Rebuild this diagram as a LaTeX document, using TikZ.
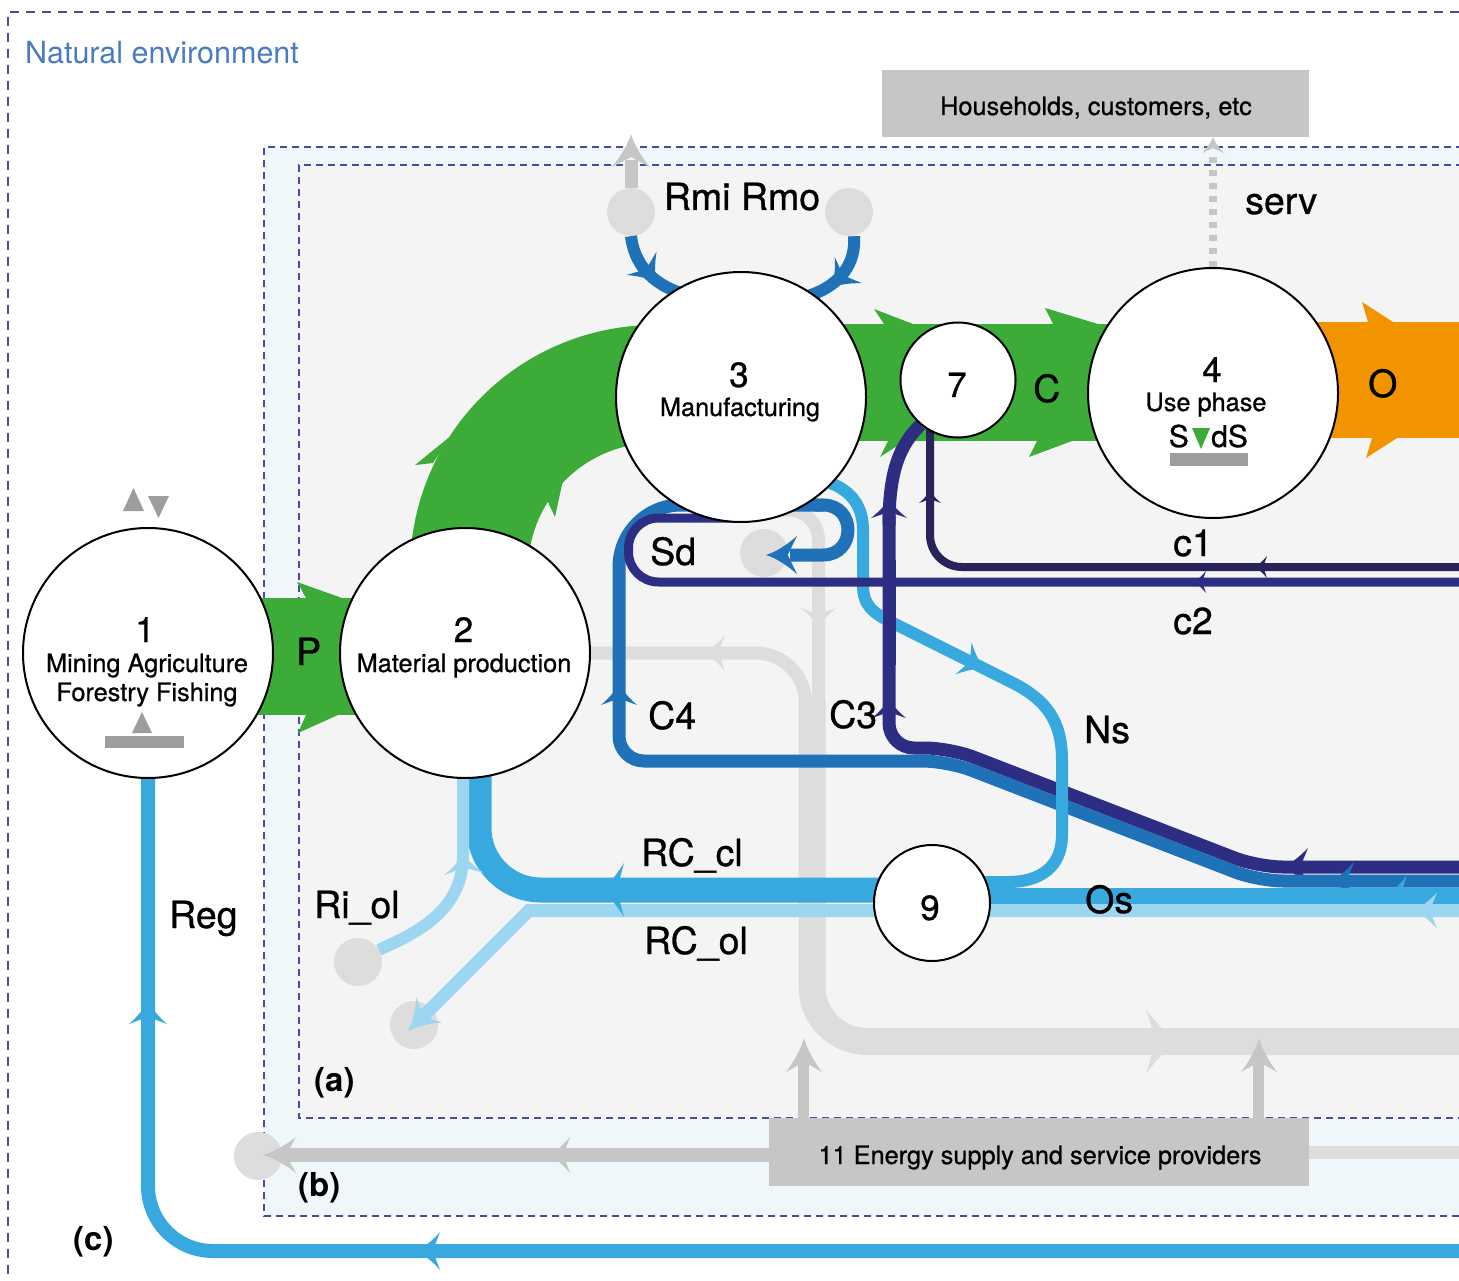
\documentclass[tikz,border=0pt]{standalone}
\usepackage{fontspec}
\setmainfont{TeX Gyre Heros}[FakeBold=0.8]
\newfontfamily\plainheros{TeX Gyre Heros}
\usetikzlibrary{calc}
\definecolor{grn}{HTML}{3DAB37}
\definecolor{org}{HTML}{F29400}
\definecolor{navy}{HTML}{2E2D84}
\definecolor{ink}{HTML}{29235C}
\definecolor{blu}{HTML}{1F71B8}
\definecolor{lblu}{HTML}{38A9DF}
\definecolor{vlblu}{HTML}{9DD6F0}
\definecolor{gline}{HTML}{DDDDDD}
\definecolor{gmid}{HTML}{C6C6C6}
\definecolor{gdark}{HTML}{9D9D9D}
\definecolor{bga}{HTML}{F4F4F4}
\definecolor{bgb}{HTML}{EFF7FB}
\definecolor{frame}{HTML}{4A4AA0}
\definecolor{envtext}{HTML}{4A7BBF}
\pgfdeclarelayer{back}
\pgfdeclarelayer{flow}
\pgfsetlayers{back,flow,main}
% flow arrowhead: tip point, direction angle, length, half width, colour
\newcommand{\fhead}[5]{\fill[#5,shift={#1},rotate=#2] (0,0) .. controls ({-0.3*#3},{0.15*#4}) and ({-0.65*#3},{0.5*#4}) .. ({-#3},{#4}) -- ({-0.7*#3},0) -- ({-#3},{-#4}) .. controls ({-0.65*#3},{-0.5*#4}) and ({-0.3*#3},{-0.15*#4}) .. (0,0) -- cycle;}
\begin{document}
\begin{tikzpicture}[x=1pt,y=-1pt,
  frameline/.style={draw=frame, line width=1.1pt, dash pattern=on 7pt off 5pt},
  outerline/.style={draw=frame, line width=1.1pt, dash pattern=on 9pt off 7pt},
  disc/.style={circle, draw=black, line width=2pt, fill=white, inner sep=0pt},
  spot/.style={circle, fill=gline, inner sep=0pt, minimum size=48pt},
  lab/.style={inner sep=0pt, anchor=base west, font=\fontsize{37.5}{40}\selectfont},
  num/.style={inner sep=0pt, anchor=base, font=\fontsize{35}{40}\selectfont},
  sub/.style={inner sep=0pt, anchor=base, font=\fontsize{25.3}{28}\selectfont},
  tag/.style={inner sep=0pt, anchor=base west, font=\fontsize{33}{36}\plainheros\bfseries},
  greybox/.style={fill=gmid, inner sep=0pt}]
\useasboundingbox (0,0) rectangle (1459,1281);

% ---------- frames and end points ----------
\begin{pgfonlayer}{back}
  \draw[outerline] (1475,12) -- (8,12) -- (8,1295);
  \fill[bgb] (264,147) rectangle (1475,1216);
  \draw[frameline] (1475,147) -- (264,147) -- (264,1216) -- (1475,1216);
  \fill[bga] (299,165) rectangle (1475,1118);
  \draw[frameline] (1475,165) -- (299,165) -- (299,1118) -- (1475,1118);
  \node[spot] (s-rmi) at (631,212) {};
  \node[spot] (s-rmo) at (849,212) {};
  \node[spot] (s-sd) at (764,553) {};
  \node[spot] (s-riol) at (358,962) {};
  \node[spot] (s-rcol) at (414,1025) {};
  \node[spot] (s-b) at (258,1156) {};
\end{pgfonlayer}

% ---------- processes ----------
\node[disc, minimum size=250pt] (n1) at (148,653) {};
\node[disc, minimum size=250pt] (n2) at (465,653) {};
\node[disc, minimum size=250pt] (n3) at (741,397) {};
\node[disc, minimum size=250pt] (n4) at (1213,393) {};
\node[disc, minimum size=115pt] (n7) at (958,380) {};
\node[disc, minimum size=116pt] (n9) at (932,903) {};
\node[greybox, minimum width=427pt, minimum height=67pt] (hh) at (1095.5,103.5) {};
\node[greybox, minimum width=540pt, minimum height=68pt] (es) at (1039,1152) {};

\begin{pgfonlayer}{flow}
  % grey energy and service flows
  \draw[gline, line width=27pt, rounded corners=55pt] (812,700) -- (812,1041.5) -- (1475,1041.5);
  \draw[gline, line width=13pt, rounded corners=50pt] (805.5,712) -- (805.5,653) -- (n2.east);
  \draw[gline, line width=13pt, rounded corners=30pt] (760,510) -- (818.5,510) -- (818.5,712);
  \fhead{(703,653)}{180}{22}{18}{gline}
  \fhead{(818.5,628)}{-90}{20}{18}{gline}
  \fhead{(1180,1041.5)}{0}{34}{32}{gline}
  \draw[gline, line width=13pt] (es.east) -- (1475,1152);
  \draw[gmid, line width=14pt] ([yshift=-3pt]es.west) -- (285,1155);
  \fhead{(548,1155)}{180}{22}{18}{gmid}
  \fhead{(263,1155)}{180}{33}{18}{gmid}
  \draw[gmid, line width=11pt] ([xshift=35pt]es.north west) -- ++(0,-60);
  \fhead{(804,1038)}{90}{34}{18}{gmid}
  \draw[gmid, line width=11pt] ([xshift=490pt]es.north west) -- ++(0,-60);
  \fhead{(1259,1038)}{90}{34}{18}{gmid}
  \draw[gmid, line width=13pt] (s-rmi.north) -- (631,160);
  \fhead{(631,134)}{90}{33}{19}{gmid}
  \draw[gmid, line width=8pt, dash pattern=on 6pt off 7pt] (n4.north) -- (1213,150);
  \fhead{(1213,137)}{90}{16}{11}{gmid}

  % regeneration
  \draw[lblu, line width=14pt, rounded corners=65pt] (n1.south) -- (148,1251) -- (1475,1251);
  \fhead{(148,1000)}{90}{24}{19}{lblu}
  \fhead{(416,1251)}{180}{24}{19}{lblu}

  % main material flows
  \fill[grn] (655,570) ++(180:245) arc[start angle=180, end angle=275, radius=245]
     -- ($(655,570)+(275:127)$) arc[start angle=275, end angle=180, radius=127] -- cycle;
  \fill[grn] (433,463) -- (415,465) -- (452,435) -- cycle;
  \fill[grn] (547,500) -- (555,517) -- (563,480) -- cycle;
  \fill[grn] (840,324) rectangle (1110,441);
  \fill[grn] (884,324) -- (874,309) -- (913,324) -- cycle;
  \fill[grn] (888,441) -- (880,457) -- (905,441) -- cycle;
  \fill[grn] (1053,324) -- (1045,308) -- (1098,324) -- cycle;
  \fill[grn] (1037,441) -- (1029,457) -- (1072,441) -- cycle;
  \fill[org] (1300,322) rectangle (1475,438);
  \fill[org] (1368,322) -- (1362,302) -- (1393,322) -- cycle;
  \fill[org] (1372,438) -- (1366,458) -- (1397,438) -- cycle;
  \fill[grn] (255,598) rectangle (360,715);
  \fill[grn] (306,598) -- (297,582) -- (342,598) -- cycle;
  \fill[grn] (306,715) -- (298,733) -- (338,715) -- cycle;

  % Rmi / Rmo
  \draw[blu, line width=12pt] (s-rmi.south) .. controls (634,262) and (650,284) .. (684,294);
  \fhead{(657,283)}{-52}{25}{19}{blu}
  \draw[blu, line width=12pt] ([xshift=5pt]s-rmo.south) .. controls (856,262) and (842,285) .. (808,296);
  \fhead{(831,288)}{-134}{25}{19}{blu}

  % C3 (navy)
  \draw[navy, line width=13pt, rounded corners=25pt] (1475,867) -- (1258,867) -- (950,748) -- (889,748) -- (889,515);
  \draw[navy, line width=13pt] (889,525) .. controls (889,470) and (900,445) .. (n7.-130);
  \fhead{(889,498)}{90}{20}{18}{navy}
  \fhead{(889,698)}{90}{20}{17}{navy}
  \fhead{(1282,867)}{180}{26}{19}{navy}

  % C4 (blue)
  \draw[blu, line width=13pt, rounded corners=25pt] (1475,881) -- (1258.6,881) -- (947.6,761) -- (619,761)
     [rounded corners=62pt] -- (619,505) [rounded corners=44pt] -- (823,505);
  \draw[blu, line width=13pt] (815,505) -- (823,505) .. controls (856.3,505) and (856.3,555) .. (823,555) -- (790,555);
  \fhead{(619,683)}{90}{22}{18}{blu}
  \fhead{(766,555)}{180}{31}{19}{blu}
  \fhead{(1330,881)}{180}{24}{19}{blu}

  % Os
  \draw[lblu, line width=16pt] (980,896) -- (1475,896);
  \fhead{(1385,896)}{180}{22}{21}{lblu}

  % Ns
  \draw[lblu, line width=12pt] (820,480) .. controls (850,487) and (863,505) .. (863,530) -- (863,585)
     .. controls (863,605) and (872,613) .. (895,624) -- (1015,684)
     .. controls (1045,700) and (1062,720) .. (1062,760) -- (1062,835)
     .. controls (1062,867) and (1040,882) .. (1008,882) -- (975,882);
  \fhead{(985,669)}{-26.6}{24}{18}{lblu}
  \draw[navy, line width=13pt] (889,560) -- (889,665);

  % c2 and c1
  \draw[navy, line width=9pt, rounded corners=30pt] (745,518) -- (628.5,518) -- (628.5,582) -- (1475,582);
  \fhead{(1193,582)}{180}{13}{11}{navy}
  \draw[ink, line width=8pt, rounded corners=32pt] (930,425) -- (930,567) -- (1475,567);
  \fhead{(930,490)}{90}{13}{11}{ink}
  \fhead{(1254,567)}{180}{13}{11}{ink}

  % RC_ol, RC_cl, Ri_ol
  \draw[vlblu, line width=13pt] (1475,910.5) -- (529,910.5) -- (421,1018.5);
  \fhead{(408,1031)}{-135}{30}{18}{vlblu}
  \fhead{(1413,910.5)}{180}{24}{18}{vlblu}
  \draw[lblu, line width=25pt, rounded corners=62pt] (880,890) -- (479,890) -- (479,770);
  \fhead{(600,890)}{180}{24}{27}{lblu}
  \draw[vlblu, line width=12pt] (s-riol.30) -- (400,940) .. controls (440,920) and (462,895) .. (463,858) -- (463,772);
  \fhead{(463,853)}{93}{21}{20}{vlblu}
\end{pgfonlayer}

% ---------- marks on processes ----------
\fill[gdark] (123,511) -- (144,511) -- (133.5,488) -- cycle;
\fill[gdark] (148,496) -- (169,496) -- (158.5,518) -- cycle;
\fill[gdark] (132,733) -- (152,733) -- (142,712) -- cycle;
\fill[gdark] (105,736) rectangle (184,748);
\fill[gdark] (1170,453) rectangle (1248,466);
\fill[grn] (1192,428) -- (1210,428) -- (1201,449) -- cycle;

% ---------- texts ----------
\node[anchor=base west, inner sep=0pt, text=envtext, font=\fontsize{30.5}{34}\plainheros] (t-env) at (25,64) {Natural environment};
\node[sub] (t-hh) at (1096,115) {Households, customers, etc};
\node[sub] (t-es) at (1040,1164) {11 Energy supply and service providers};

\node[num] (t-1) at (145,642) {1};
\node[sub] (t-1a) at (147,672) {Mining Agriculture};
\node[sub] (t-1b) at (147,701) {Forestry Fishing};
\node[num] (t-2) at (463.5,642) {2};
\node[sub] (t-2a) at (464,672) {Material production};
\node[num] (t-3) at (739,387) {3};
\node[sub] (t-3a) at (740,416) {Manufacturing};
\node[num] (t-4) at (1212,382) {4};
\node[sub] (t-4a) at (1206,411) {Use phase};
\node[anchor=base east, inner sep=0pt, font=\fontsize{30}{32}\selectfont] (t-4s) at (1189,447) {S};
\node[anchor=base west, inner sep=0pt, font=\fontsize{30}{32}\selectfont] (t-4ds) at (1211,447) {dS};
\node[num] (t-7) at (957,397) {7};
\node[num] (t-9) at (930,920) {9};

\node[lab, anchor=base] (t-rm) at (742,210) {Rmi Rmo};
\node[lab] (t-serv) at (1245,214) {serv};
\node[lab] (t-sd) at (650,565) {Sd};
\node[lab] (t-c4) at (648,729) {C4};
\node[lab] (t-c3) at (829,728) {C3};
\node[lab] (t-ns) at (1084,743) {Ns};
\node[lab] (t-c1) at (1173,556) {c1};
\node[lab] (t-c2) at (1173,634) {c2};
\node[lab] (t-rccl) at (641,866) {RC\_cl};
\node[lab] (t-rcol) at (644,954) {RC\_ol};
\node[lab] (t-riol) at (314,918) {Ri\_ol};
\node[lab] (t-os) at (1085,913) {Os};
\node[lab] (t-reg) at (169,928) {Reg};
\node[lab] (t-p) at (296,665) {P};
\node[lab] (t-cc) at (1033,402) {C};
\node[lab] (t-o) at (1368,397) {O};
\node[tag] (t-a) at (314,1091) {(a)};
\node[tag] (t-b) at (298,1196) {(b)};
\node[tag] (t-c) at (73,1250) {(c)};
\end{tikzpicture}
\end{document}
